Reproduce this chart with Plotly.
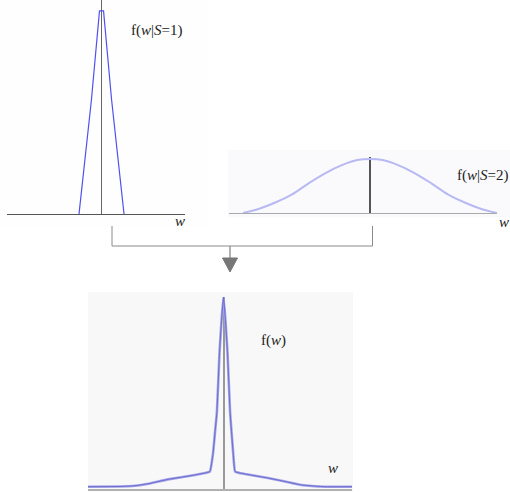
import plotly.graph_objects as go

W, H = 510, 492

# top-left: f(w|S=1), narrow peak
w1 = [-1.0, -0.45, -0.09, 0.09, 0.45, 1.0]
f1 = [0, 0.56, 1, 1, 0.56, 0]

# top-right: f(w|S=2), wide bell
w2 = [-3, -2.65, -2.25, -1.85, -1.45, -1.05, -0.65, -0.3, 0,
      0.3, 0.65, 1.05, 1.45, 1.85, 2.25, 2.65, 3]
f2 = [0, 0.07, 0.19, 0.34, 0.55, 0.74, 0.89, 0.98, 1,
      0.98, 0.89, 0.74, 0.55, 0.34, 0.19, 0.07, 0]

# bottom: mixture f(w)
w3 = [-6.78, -5.18, -4.43, -3.68, -2.78, -1.43, -0.93, -0.68, -0.53, -0.42,
      -0.33, -0.2, -0.09, 0, 0.09, 0.2, 0.33, 0.4, 0.49, 0.58, 1.08,
      2.23, 3.08, 3.9, 5.08, 6.43]
f3 = [0.012, 0.013, 0.017, 0.029, 0.05, 0.073, 0.083, 0.091, 0.18, 0.3,
      0.4, 0.71, 0.89, 1.0, 0.89, 0.71, 0.4, 0.3, 0.18, 0.091, 0.078,
      0.057, 0.039, 0.021, 0.012, 0.012]


def px(x):
    return x / W


def py(y):
    return 1 - y / H


fig = go.Figure()

fig.add_trace(go.Scatter(x=w1, y=f1, mode="lines", xaxis="x", yaxis="y",
                         line=dict(color="#5050f0", width=1.2)))
fig.add_trace(go.Scatter(x=w2, y=f2, mode="lines", xaxis="x2", yaxis="y2",
                         line=dict(color="#b8b8f2", width=2, shape="spline")))
fig.add_trace(go.Scatter(x=w3, y=f3, mode="lines", xaxis="x3", yaxis="y3",
                         line=dict(color="#a4a4e8", width=2.6, shape="spline",
                                   smoothing=0.3)))
fig.add_trace(go.Scatter(x=w3, y=f3, mode="lines", xaxis="x3", yaxis="y3",
                         line=dict(color="#6c6cd0", width=1, shape="spline",
                                   smoothing=0.3)))

hid = dict(showgrid=False, showticklabels=False, ticks="", fixedrange=True)

fig.update_layout(
    width=W, height=H,
    margin=dict(l=0, r=0, t=0, b=0),
    paper_bgcolor="white",
    plot_bgcolor="rgba(0,0,0,0)",
    showlegend=False,
    hovermode=False,
    xaxis=dict(domain=[px(7), px(185)], range=[-4.2, 3.71], showline=True,
               linecolor="#555", linewidth=1, zeroline=True,
               zerolinecolor="#666", zerolinewidth=1, anchor="y", **hid),
    yaxis=dict(domain=[py(214), py(0)], range=[0, 1.054], visible=False,
               anchor="x"),
    xaxis2=dict(domain=[px(229), px(497)], range=[-3.33, 3.0], showline=True,
                linecolor="#aaa", linewidth=1, zeroline=True,
                zerolinecolor="#555", zerolinewidth=2, anchor="y2", **hid),
    yaxis2=dict(domain=[py(213), py(157)], range=[0, 1.037], visible=False,
                anchor="x2"),
    xaxis3=dict(domain=[px(88), px(352)], range=[-6.78, 6.43], showline=True,
                linecolor="#b0b0b0", linewidth=2, zeroline=True,
                zerolinecolor="#999", zerolinewidth=2, anchor="y3", **hid),
    yaxis3=dict(domain=[py(489), py(297)], range=[0, 1.0], visible=False,
                anchor="x3"),
)

# faint panel backgrounds
for x0, y0, x1, y1, c in [(0, 0, 207, 226, "#fefefe"),
                          (228, 150, 510, 217, "#fafafd"),
                          (88, 292, 353, 491, "#f8f8f8")]:
    fig.add_shape(type="rect", xref="paper", yref="paper",
                  x0=px(x0), x1=px(x1), y0=py(y1), y1=py(y0),
                  fillcolor=c, line_width=0, layer="below")

# bracket joining the two top panels and the arrow down
fig.add_shape(type="path", xref="paper", yref="paper",
              path=f"M {px(112)} {py(226)} L {px(112)} {py(246)} "
                   f"L {px(372.5)} {py(246)} L {px(372.5)} {py(226)}",
              line=dict(color="#8a8a8a", width=1))
fig.add_shape(type="line", xref="paper", yref="paper",
              x0=px(230), x1=px(230), y0=py(246), y1=py(259),
              line=dict(color="#999", width=1.5))
fig.add_shape(type="path", xref="paper", yref="paper",
              path=f"M {px(222.5)} {py(258)} L {px(237.5)} {py(258)} "
                   f"L {px(230)} {py(272)} Z",
              fillcolor="#777", line=dict(color="#777", width=1))

font = dict(family="Liberation Serif", size=15, color="#222")
labels = [
    ("f(<i>w</i>|<i>S</i>=1)", 129, 31),
    ("<i>w</i>", 173, 221),
    ("f(<i>w</i>|<i>S</i>=2)", 455, 175),
    ("<i>w</i>", 497, 222),
    ("f(<i>w</i>)", 259, 340),
    ("<i>w</i>", 326, 468),
]
for txt, x, y in labels:
    fig.add_annotation(text=txt, xref="paper", yref="paper", x=px(x), y=py(y),
                       xanchor="left", yanchor="middle", showarrow=False,
                       font=font)

# the page's default body margin would shift the figure by 8px
fig.write_html("out.html", config={"displayModeBar": False},
               post_script="document.body.style.margin='0';")
